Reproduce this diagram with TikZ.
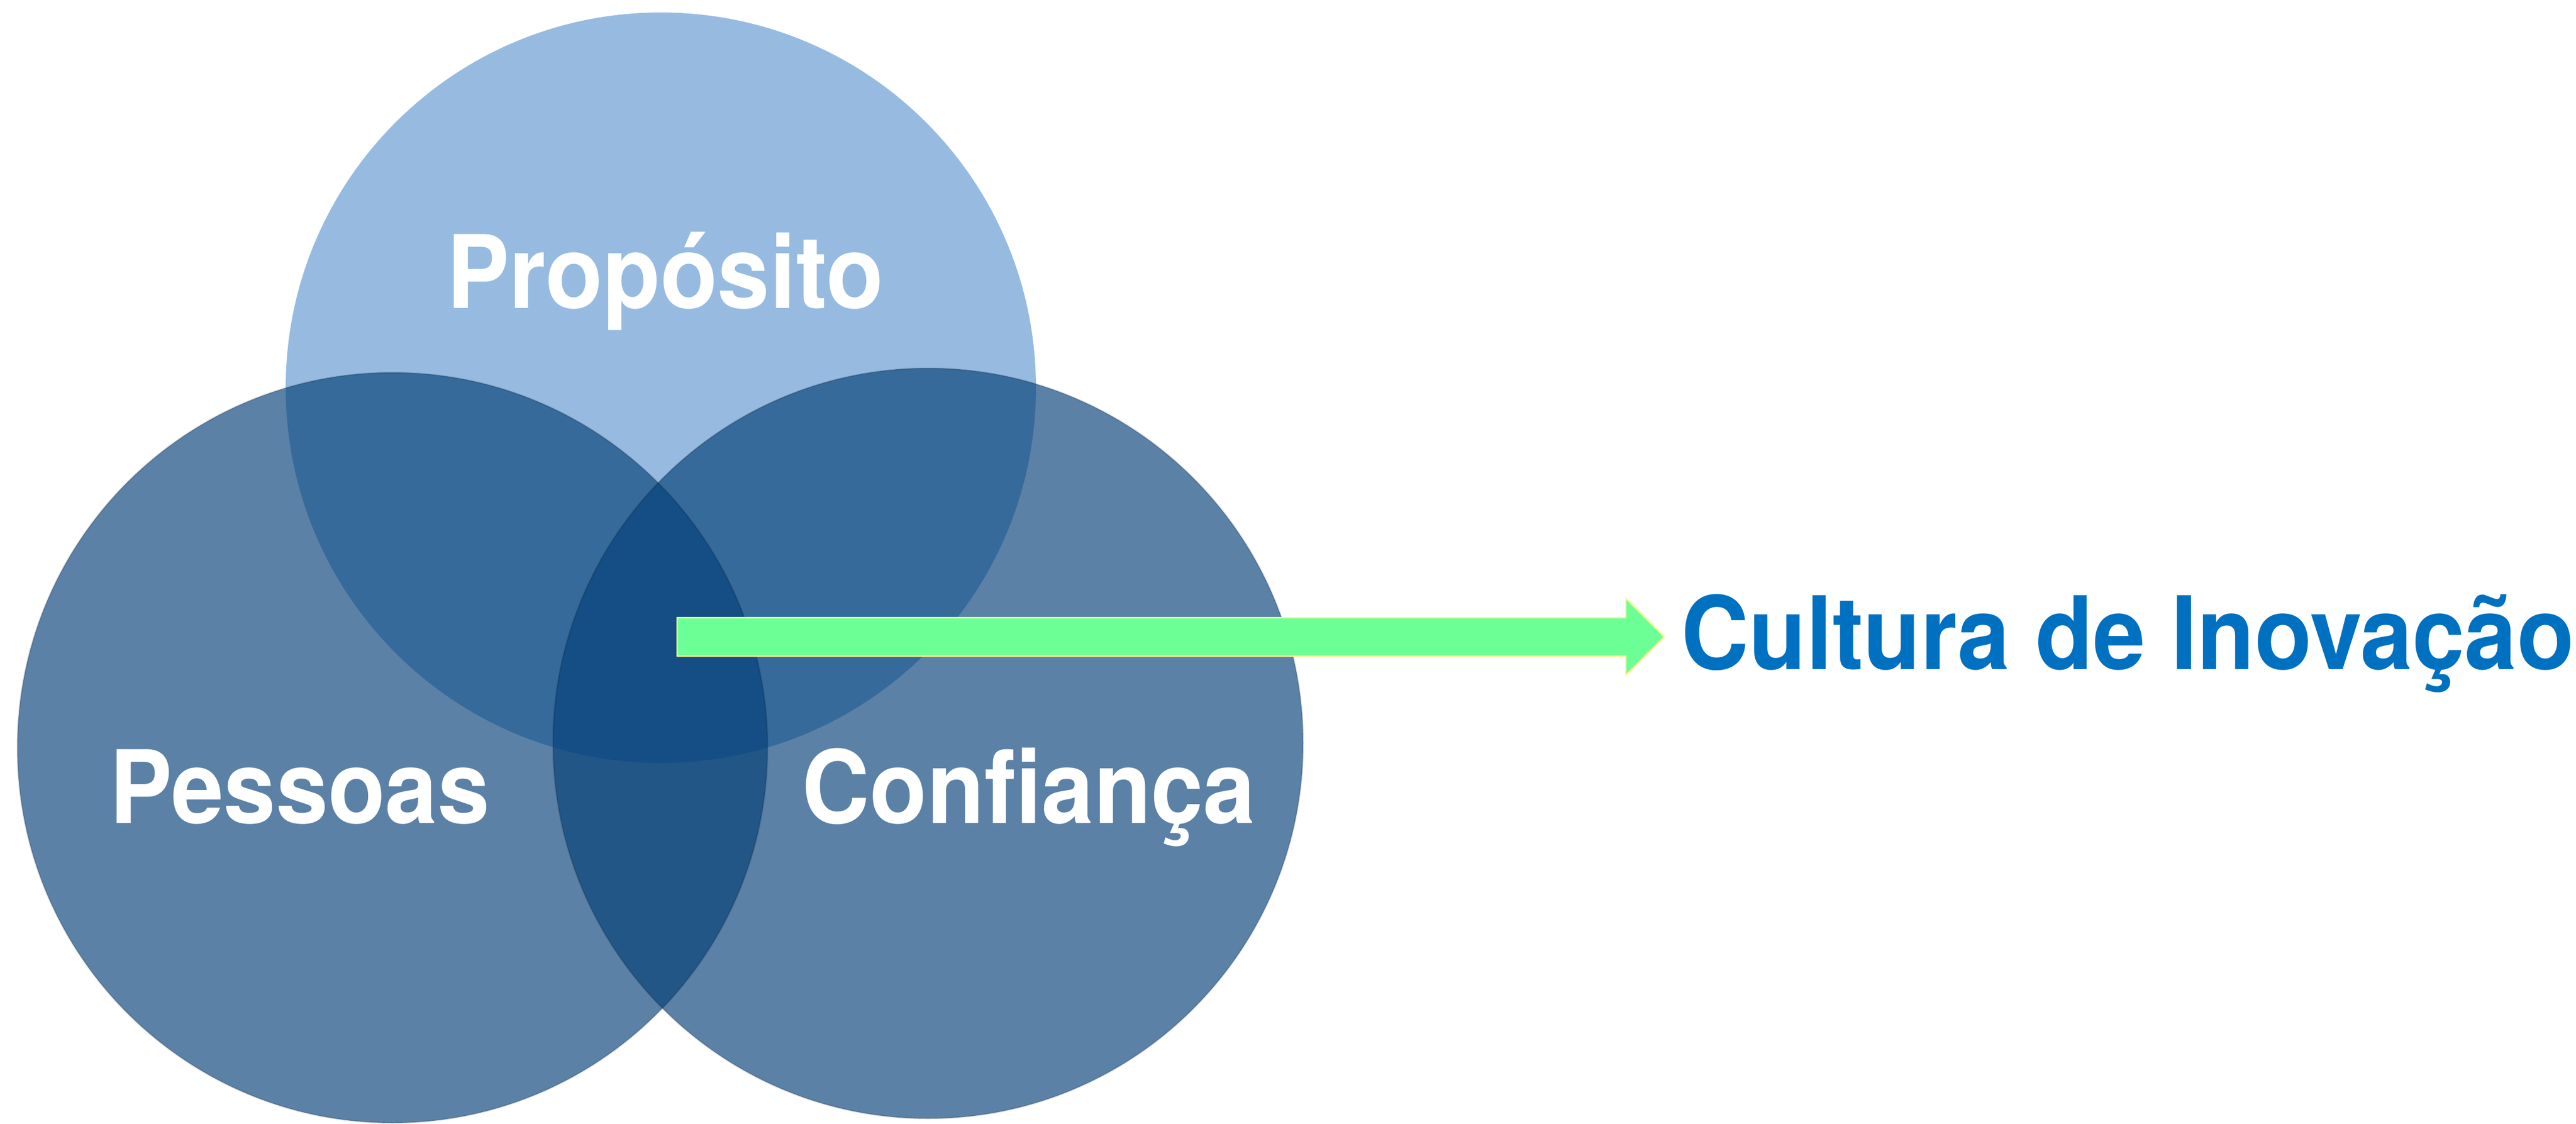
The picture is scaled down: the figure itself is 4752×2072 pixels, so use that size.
\documentclass[tikz,border=0pt]{standalone}
\usepackage{fontspec}
\setmainfont{TeX Gyre Heros}
\usetikzlibrary{calc}
\definecolor{topc}{RGB}{151,187,224}
\definecolor{lowc}{RGB}{91,129,167}
\definecolor{tlc}{RGB}{54,106,154}
\definecolor{lrc}{RGB}{33,86,134}
\definecolor{triplec}{RGB}{20,78,132}
\definecolor{arrowc}{RGB}{108,255,150}
\definecolor{textblue}{RGB}{0,112,192}
\tikzset{
  lbl/.style={inner sep=0pt, anchor=base, font=\fontsize{18.7}{20}\bfseries\selectfont},
  edgeline/.style={draw=black, draw opacity=0.12, line width=0.3pt},
}
\newcommand{\nar}[1]{\scalebox{0.925}[1]{#1}}
\begin{document}
\begin{tikzpicture}[x=0.1pt,y=-0.1pt]
\useasboundingbox (0,0) rectangle (4752,2072);
\fill[white] (0,0) rectangle (4752,2072);
\def\R{69.2pt}
\coordinate (cT) at (1219,715);
\coordinate (cL) at (724,1379);
\coordinate (cR) at (1712,1371);
% base fills
\fill[topc] (cT) circle[radius=\R];
\fill[lowc] (cL) circle[radius=\R];
\fill[lowc] (cR) circle[radius=\R];
% top overlaps
\begin{scope}
  \clip (cT) circle[radius=\R];
  \fill[tlc] (cL) circle[radius=\R];
  \fill[tlc] (cR) circle[radius=\R];
\end{scope}
% left-right overlap and triple
\begin{scope}
  \clip (cL) circle[radius=\R];
  \fill[lrc] (cR) circle[radius=\R];
  \clip (cT) circle[radius=\R];
  \fill[triplec] (cR) circle[radius=\R];
\end{scope}
\draw[edgeline] (cL) circle[radius=\R];
\draw[edgeline] (cR) circle[radius=\R];
% arrow
\coordinate (aS) at (1249,1174.5);
\coordinate (aT) at (3070,1174.5);
\fill[arrowc, draw=yellow!45!white, line width=0.25pt]
  ([shift={(0,-35.5)}]aS) -- ([shift={(-71,-35.5)}]aT) -- ([shift={(-71,-71)}]aT)
  -- (aT) -- ([shift={(-71,71)}]aT) -- ([shift={(-71,35.5)}]aT)
  -- ([shift={(0,35.5)}]aS) -- cycle;
% labels
\node[lbl, text=white] (prop) at (1227,568) {\nar{Propósito}};
\node[lbl, text=white] (pess) at (553,1518) {\nar{Pessoas}};
\node[lbl, text=white] (conf) at (1898,1518) {\nar{Confiança}};
\node[lbl, text=textblue] (cult) at (3925,1234) {\nar{Cultura de Inovação}};
\end{tikzpicture}
\end{document}
